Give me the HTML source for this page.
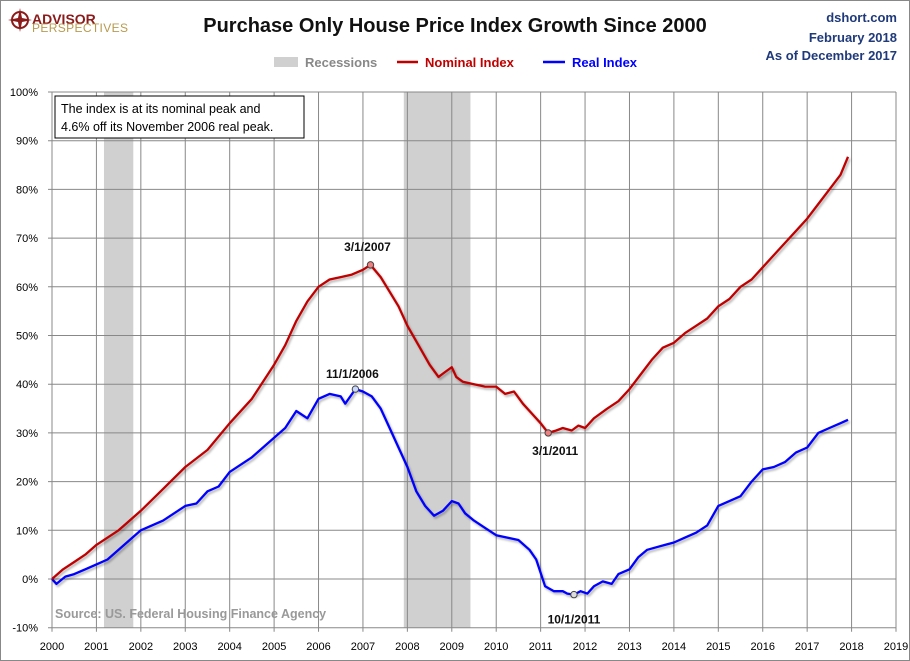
<!DOCTYPE html>
<html><head><meta charset="utf-8"><style>
body{margin:0;background:#fff;}
svg{display:block;font-family:"Liberation Sans",sans-serif;}
</style></head><body>
<svg width="910" height="661" viewBox="0 0 910 661">
<defs><filter id="sh" x="-5%" y="-5%" width="110%" height="110%"><feDropShadow dx="1.5" dy="2" stdDeviation="1" flood-color="#000" flood-opacity="0.3"/></filter></defs>
<rect x="0.5" y="0.5" width="909" height="660" fill="#fff" stroke="#888"/>
<g>
<circle cx="20" cy="20" r="8" fill="none" stroke="#8b1a1a" stroke-width="2"/>
<path d="M20 8 L22 18 L32 20 L22 22 L20 32 L18 22 L8 20 L18 18Z" fill="#8b1a1a"/>
<text x="32" y="24" font-size="14" font-weight="bold" fill="#8b1a1a">ADVISOR</text>
<text x="32" y="32" font-size="12" fill="#b89a4e" textLength="96">PERSPECTIVES</text>
</g>
<text x="455" y="32" text-anchor="middle" font-size="20" font-weight="bold" fill="#111">Purchase Only House Price Index Growth Since 2000</text>
<g font-size="13" font-weight="bold" fill="#1f3a7a" text-anchor="end">
<text x="897" y="22">dshort.com</text><text x="897" y="42">February 2018</text><text x="897" y="60">As of December 2017</text></g>
<g font-size="13" font-weight="bold">
<rect x="274" y="57" width="24" height="10" fill="#d0d0d0"/>
<text x="305" y="67" fill="#888">Recessions</text>
<line x1="397" y1="62" x2="418" y2="62" stroke="#c00000" stroke-width="2.5"/>
<text x="425" y="67" fill="#c00000">Nominal Index</text>
<line x1="543" y1="62" x2="565" y2="62" stroke="#0000ff" stroke-width="2.5"/>
<text x="572" y="67" fill="#0000ff">Real Index</text>
</g>
<g id="plot"></g>
</svg>
<script>
const years=[2000,2001,2002,2003,2004,2005,2006,2007,2008,2009,2010,2011,2012,2013,2014,2015,2016,2017,2018,2019];
const yTicks=[-10,0,10,20,30,40,50,60,70,80,90,100];
const recessions=[[2001.17,2001.83],[2007.92,2009.42]];
const nomT=[2000,2000.25,2000.5,2000.75,2001,2001.5,2002,2002.5,2003,2003.5,2004,2004.5,2005,2005.25,2005.5,2005.75,2006,2006.25,2006.5,2006.75,2007,2007.17,2007.4,2007.6,2007.8,2008,2008.25,2008.5,2008.7,2008.85,2009.0,2009.1,2009.25,2009.5,2009.75,2010,2010.2,2010.4,2010.6,2010.8,2011,2011.17,2011.35,2011.5,2011.7,2011.85,2012,2012.2,2012.5,2012.75,2013,2013.25,2013.5,2013.75,2014,2014.25,2014.5,2014.75,2015,2015.25,2015.5,2015.75,2016,2016.25,2016.5,2016.75,2017,2017.25,2017.5,2017.75,2017.92];
const nomV=[0,2,3.5,5,7,10,14,18.5,23,26.5,32,37,44,48,53,57,60,61.5,62,62.5,63.5,64.5,62,59,56,52,48,44,41.5,42.5,43.5,41.5,40.5,40,39.5,39.5,38,38.5,36,34,32,30,30.5,31,30.5,31.5,31,33,35,36.5,39,42,45,47.5,48.5,50.5,52,53.5,56,57.5,60,61.5,64,66.5,69,71.5,74,77,80,83,86.7];
const realT=[2000,2000.1,2000.3,2000.5,2000.75,2001,2001.25,2001.5,2001.75,2002,2002.5,2003,2003.25,2003.5,2003.75,2004,2004.5,2005,2005.25,2005.5,2005.75,2006,2006.25,2006.5,2006.6,2006.83,2007,2007.2,2007.4,2007.6,2007.8,2008,2008.2,2008.4,2008.6,2008.8,2009,2009.15,2009.3,2009.5,2009.75,2010,2010.25,2010.5,2010.75,2010.9,2011.1,2011.3,2011.5,2011.6,2011.75,2011.9,2012.05,2012.2,2012.4,2012.6,2012.75,2013,2013.2,2013.4,2013.6,2013.8,2014,2014.25,2014.5,2014.75,2015,2015.25,2015.5,2015.75,2016,2016.25,2016.5,2016.75,2017,2017.25,2017.5,2017.75,2017.92];
const realV=[0,-1,0.5,1,2,3,4,6,8,10,12,15,15.5,18,19,22,25,29,31,34.5,33,37,38,37.5,36,39,38.5,37.5,35,31,27,23,18,15,13,14,16,15.5,13.5,12,10.5,9,8.5,8,6,4,-1.5,-2.5,-2.5,-3,-3.2,-2.5,-3,-1.5,-0.5,-1,1,2,4.5,6,6.5,7,7.5,8.5,9.5,11,15,16,17,20,22.5,23,24,26,27,30,31,32,32.7];
const X0=52,X1=896,Y0=579,PX10=48.7;
const xs=t=>X0+(t-2000)*(X1-X0)/19;
const ys=v=>Y0-v*PX10/10;
const NS="http://www.w3.org/2000/svg";
const plot=document.getElementById('plot');
function mk(tag,attrs,parent){const e=document.createElementNS(NS,tag);for(const k in attrs)e.setAttribute(k,attrs[k]);(parent||plot).appendChild(e);return e;}
recessions.forEach(r=>{const e=mk('rect',{x:xs(r[0]),y:ys(100),width:xs(r[1])-xs(r[0]),height:ys(-10)-ys(100),fill:'#d0d0d0'});

});
years.forEach(y=>{const l=mk('line',{x1:xs(y),x2:xs(y),y1:ys(100),y2:ys(-10)+4,stroke:'#888','stroke-width':1});


const t=mk('text',{x:xs(y),y:650,'text-anchor':'middle','font-size':11,fill:'#000'});t.textContent=y;

});
yTicks.forEach(v=>{const l=mk('line',{x1:X0-4,x2:X1,y1:ys(v),y2:ys(v),stroke:'#888','stroke-width':1});


const t=mk('text',{x:38,y:ys(v)+4,'text-anchor':'end','font-size':11,fill:'#000'});t.textContent=v+'%';

});
function line(T,V,c,name){const d=T.map((t,i)=>(i?'L':'M')+xs(t).toFixed(1)+' '+ys(V[i]).toFixed(1)).join(' ');
const p=mk('path',{d:d,fill:'none',stroke:c,'stroke-width':2.3,'stroke-linejoin':'round',filter:'url(#sh)'});

}
line(realT,realV,'#0000ff','real-index-line');
line(nomT,nomV,'#c00000','nominal-index-line');
const ann=[[2007.17,64.5,'3/1/2007',-3,-14,'#f08080'],[2006.83,39,'11/1/2006',-3,-11,'#c8d8ff'],[2011.17,30,'3/1/2011',7,22,'#f08080'],[2011.75,-3.2,'10/1/2011',0,29,'#ddd']];
ann.forEach(a=>{const c=mk('circle',{cx:xs(a[0]),cy:ys(a[1]),r:3.2,fill:a[5],stroke:'#444','stroke-width':1});


const t=mk('text',{x:xs(a[0])+a[3],y:ys(a[1])+a[4],'text-anchor':'middle','font-size':12,'font-weight':'bold',fill:'#111'});t.textContent=a[2];

});
const bx=mk('rect',{x:55,y:96,width:249,height:42,fill:'#fff',stroke:'#000','stroke-width':1});


const t1=mk('text',{x:61,y:113,'font-size':12.5,fill:'#000'});t1.textContent='The index is at its nominal peak and';


const t2=mk('text',{x:61,y:131,'font-size':12.5,fill:'#000'});t2.textContent='4.6% off its November 2006 real peak.';


const src=mk('text',{x:55,y:618,'font-size':12.5,'font-weight':'bold',fill:'#999'});src.textContent='Source: US. Federal Housing Finance Agency';


</script>
</body></html>
